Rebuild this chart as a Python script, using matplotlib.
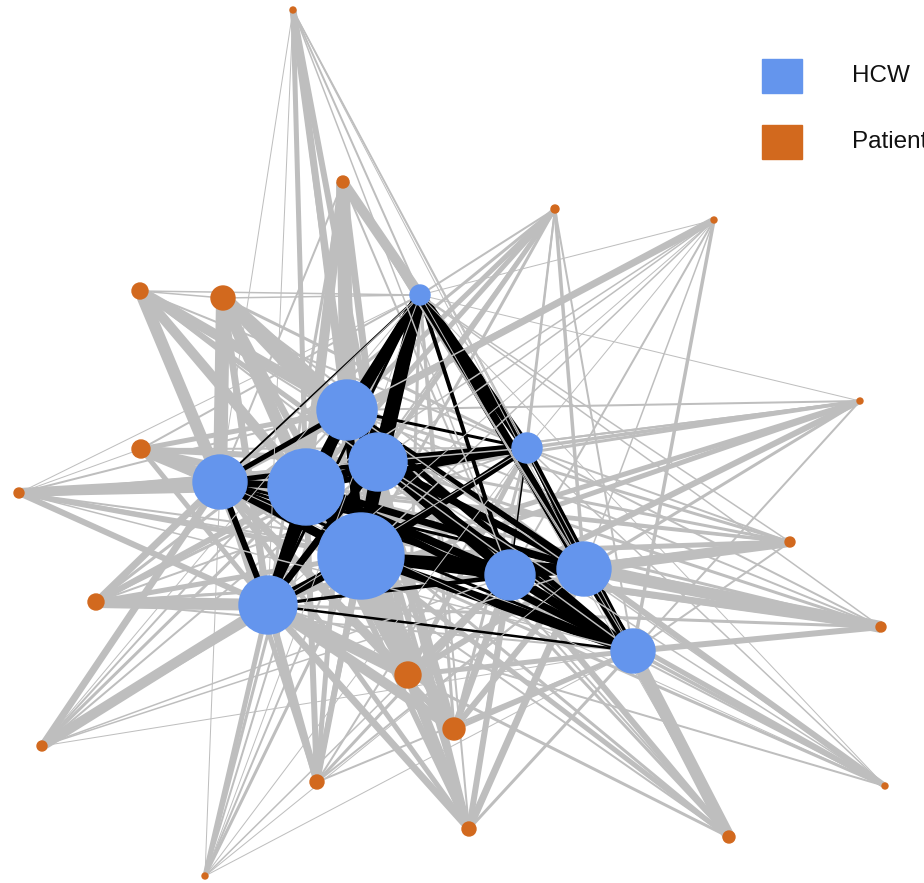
#!/usr/bin/env python3
"""Contact network of HCWs and patients."""

import matplotlib
matplotlib.use("Agg")
import matplotlib.pyplot as plt
from matplotlib.collections import LineCollection
from matplotlib.patches import Circle, Rectangle

# node positions (pixel space of the original picture) and radii
HCW_X = [420, 347, 378, 220, 306, 361, 268, 510, 584, 633, 527]
HCW_Y = [295, 410, 462, 482, 487, 556, 605, 575, 569, 651, 448]
HCW_R = [10, 30, 29, 27, 38, 43, 29, 25, 27, 22, 15]

PAT_X = [293, 343, 555, 714, 140, 223, 141, 19, 860, 790, 96, 881, 408, 454, 42, 317, 885, 469, 729, 205]
PAT_Y = [10, 182, 209, 220, 291, 298, 449, 493, 401, 542, 602, 627, 675, 729, 746, 782, 786, 829, 837, 876]
PAT_R = [3, 6, 4, 3, 8, 12, 9, 5, 3, 5, 8, 5, 13, 11, 5, 7, 3, 7, 6, 3]

# patient -> HCW contact weights (line width, px), columns follow HCW order
PAT_HCW_W = [
    [2, 7, 6, 1, 5, 3, 1, 1.5, 1, 1, 1.5],
    [10, 14, 7, 2, 10, 7, 3, 2, 1.5, 1, 2],
    [2, 5, 5, 3, 5, 3, 2, 2, 3.5, 2, 2],
    [1, 1.5, 1.5, 7, 1.5, 1.5, 1, 2, 1.5, 3.5, 1],
    [1.5, 10, 5, 12, 10, 5, 7, 2, 2, 1.5, 2],
    [1.5, 14, 10, 14, 12, 7, 7, 3, 2, 2, 3],
    [2, 5, 6, 12, 7, 5, 5, 3, 3, 2, 2],
    [1, 2, 3, 10, 7, 5, 6, 2, 2, 1.5, 1.5],
    [1, 2, 2, 2, 3, 5, 5, 6, 3, 2, 3.5],
    [1.5, 3, 3, 3, 3, 5, 3, 6, 10, 2, 2],
    [1, 3, 3, 7, 6, 5, 12, 3, 2, 2, 2],
    [1.5, 2, 3, 2, 3, 5, 3, 7, 12, 6, 2],
    [3, 7, 7, 7, 10, 14, 12, 7, 6, 5, 5],
    [3, 5, 6, 6, 7, 10, 10, 7, 6, 5, 3],
    [1, 2, 2, 7, 3, 3, 10, 1.5, 1.5, 1, 1],
    [2, 5, 5, 5, 6, 6, 7, 3, 2, 2, 2],
    [1, 1.5, 1.5, 1, 2, 3, 2, 5, 6, 3.5, 1.5],
    [2, 5, 5, 5, 6, 10, 7, 6, 7, 3, 3],
    [1, 2, 3, 2, 3, 5, 3, 6, 7, 12, 2],
    [1, 2, 2, 1, 3, 3, 5, 1.5, 1, 1, 1],
]

# HCW <-> HCW contact weights (upper triangle, px)
HCW_PAIRS = [
    (0, 1, 8), (0, 2, 13), (0, 3, 2), (0, 4, 10), (0, 5, 11), (0, 6, 3), (0, 7, 4), (0, 8, 3), (0, 9, 10), (0, 10, 10),
    (1, 2, 8), (1, 3, 5), (1, 4, 8), (1, 5, 9), (1, 6, 7), (1, 7, 7), (1, 8, 6), (1, 9, 6), (1, 10, 3),
    (2, 3, 5), (2, 4, 8), (2, 5, 11), (2, 6, 7), (2, 7, 9), (2, 8, 7), (2, 9, 7), (2, 10, 10),
    (3, 4, 7), (3, 5, 9), (3, 6, 6), (3, 7, 3), (3, 8, 3), (3, 9, 3), (3, 10, 2),
    (4, 5, 11), (4, 6, 9), (4, 7, 8), (4, 8, 7), (4, 9, 7), (4, 10, 6),
    (5, 6, 9), (5, 7, 11), (5, 8, 8), (5, 9, 9), (5, 10, 7),
    (6, 7, 3), (6, 8, 2), (6, 9, 2.5), (6, 10, 2),
    (7, 8, 8), (7, 9, 9), (7, 10, 1.5),
    (8, 9, 8), (8, 10, 3),
    (9, 10, 6),
]

# a few patient <-> patient contacts (thin)
PAT_PAIRS = [(4, 5, 1.5), (6, 7, 1)]

LEGEND_LABELS = ["HCW", "Patient"]
BLUE = "#6495ED"
ORANGE = "#D2691E"
GREY = "#bebebe"

W, H, DPI = 924, 883, 100
PX = 72.0 / DPI  # px -> points


def main():
    fig = plt.figure(figsize=(W / DPI, H / DPI), dpi=DPI)
    ax = fig.add_axes([0, 0, 1, 1])
    ax.set_xlim(0, W)
    ax.set_ylim(H, 0)
    ax.set_aspect("equal")
    ax.axis("off")

    # grey edges (anything touching a patient)
    segs, widths = [], []
    for p, row in enumerate(PAT_HCW_W):
        for h, w in enumerate(row):
            segs.append([(PAT_X[p], PAT_Y[p]), (HCW_X[h], HCW_Y[h])])
            widths.append(w * PX)
    for a, b, w in PAT_PAIRS:
        segs.append([(PAT_X[a], PAT_Y[a]), (PAT_X[b], PAT_Y[b])])
        widths.append(w * PX)

    # black edges between HCWs
    bsegs, bwidths = [], []
    for a, b, w in HCW_PAIRS:
        bsegs.append([(HCW_X[a], HCW_Y[a]), (HCW_X[b], HCW_Y[b])])
        bwidths.append(w * PX)

    # grey below, black on top, the very thin grey lines over everything
    thick = [i for i, w in enumerate(widths) if w > 1.5 * PX]
    thin = [i for i, w in enumerate(widths) if w <= 1.5 * PX]
    ax.add_collection(LineCollection([segs[i] for i in thick], colors=GREY,
                                     linewidths=[widths[i] for i in thick],
                                     capstyle="butt", zorder=1))
    ax.add_collection(LineCollection(bsegs, colors="black", linewidths=bwidths,
                                     capstyle="butt", zorder=2))
    ax.add_collection(LineCollection([segs[i] for i in thin], colors=GREY,
                                     linewidths=[widths[i] for i in thin],
                                     capstyle="butt", zorder=2.5))

    for x, y, r in zip(HCW_X, HCW_Y, HCW_R):
        ax.add_patch(Circle((x, y), r, color=BLUE, zorder=3))
    for x, y, r in zip(PAT_X, PAT_Y, PAT_R):
        ax.add_patch(Circle((x, y), r, color=ORANGE, zorder=3))

    # legend
    for i, (lab, col) in enumerate(zip(LEGEND_LABELS, [BLUE, ORANGE])):
        y0 = 59 + i * 66
        ax.add_patch(Rectangle((762, y0), 40, 34, color=col, zorder=4))
        ax.text(852, y0 + 17, lab, fontsize=17.5, family="Liberation Sans",
                va="center", ha="left", color="#111111", zorder=4)

    fig.savefig("out.png", dpi=DPI)


if __name__ == "__main__":
    main()
